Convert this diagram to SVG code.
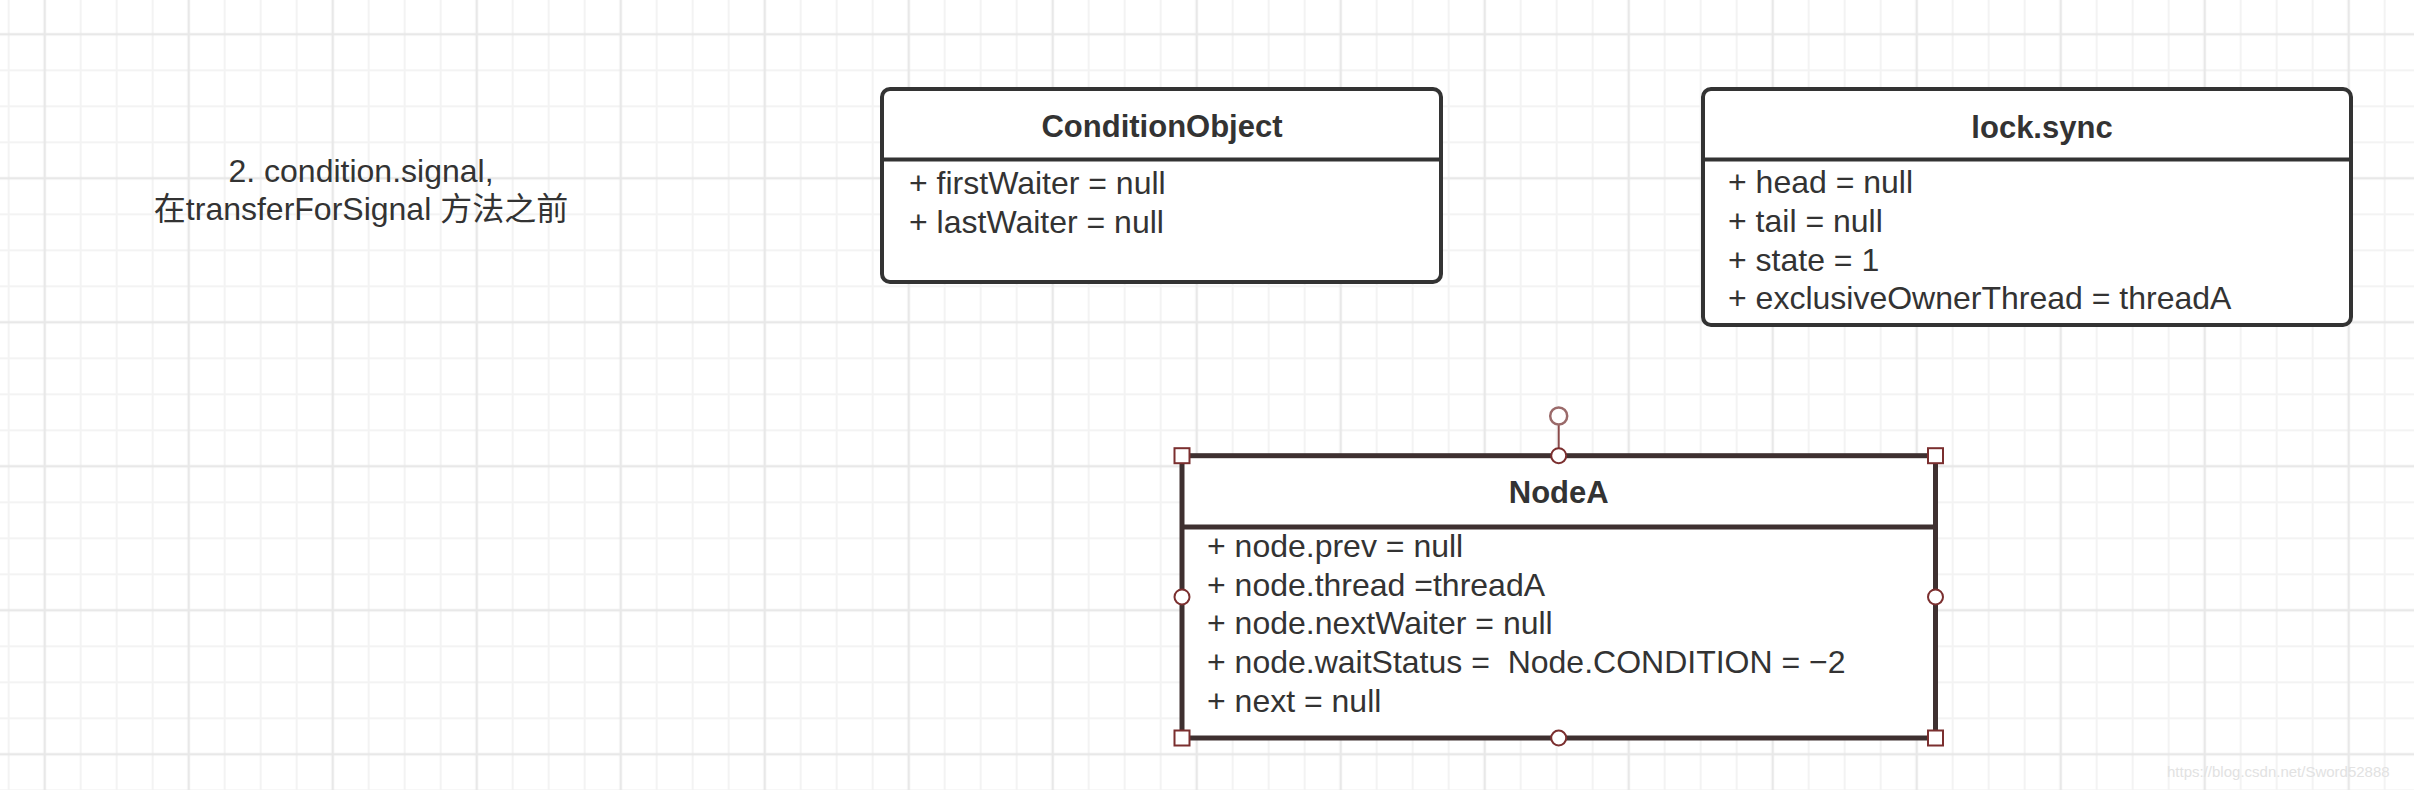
<svg xmlns="http://www.w3.org/2000/svg" width="2414" height="790" viewBox="0 0 2414 790">
  <defs>
    <pattern id="grid" patternUnits="userSpaceOnUse" x="26.7" y="16.3" width="144" height="144">
      <rect width="144" height="144" fill="#ffffff"/>
      <g fill="#f3f3f3">
        <rect x="53" y="0" width="2" height="144"/>
        <rect x="89" y="0" width="2" height="144"/>
        <rect x="125" y="0" width="2" height="144"/>
        <rect x="0" y="53" width="144" height="2"/>
        <rect x="0" y="89" width="144" height="2"/>
        <rect x="0" y="125" width="144" height="2"/>
      </g>
      <g fill="#e8e8e8">
        <rect x="16.8" y="0" width="2.4" height="144"/>
        <rect x="0" y="16.8" width="144" height="2.4"/>
      </g>
    </pattern>
    <style>
      .box { fill: #ffffff; stroke: #333333; stroke-width: 4; }
      .div { stroke: #333333; stroke-width: 4; }
      .title { font-family: "Liberation Sans", Arial, sans-serif; font-size: 31px; font-weight: bold; fill: #333333; text-anchor: middle; }
      .attr { font-family: "Liberation Sans", Arial, sans-serif; font-size: 32px; fill: #333333; white-space: pre; }
      .note { font-family: "Liberation Sans", "Noto Sans CJK SC", sans-serif; font-size: 32px; fill: #333333; text-anchor: middle; }
      .sel { fill: #ffffff; stroke: #7b2f2f; stroke-width: 2; }
      .nbox { fill: #ffffff; stroke: #3e3030; stroke-width: 5; }
    </style>
  </defs>

  <rect x="0" y="0" width="2414" height="790" fill="url(#grid)"/>

  <g id="note">
    <text class="note" x="361" y="181.5">2. condition.signal,</text>
    <text class="note" x="361" y="220">在transferForSignal 方法之前</text>
  </g>

  <g id="node-conditionobject">
    <rect class="box" x="882" y="89" width="559" height="193" rx="8"/>
    <line class="div" x1="882" y1="159.5" x2="1441" y2="159.5"/>
    <text class="title" x="1162" y="136.7">ConditionObject</text>
    <text class="attr" x="909" y="194">+ firstWaiter = null</text>
    <text class="attr" x="909" y="232.5">+ lastWaiter = null</text>
  </g>

  <g id="node-locksync">
    <rect class="box" x="1703" y="89" width="648" height="236" rx="8"/>
    <line class="div" x1="1703" y1="159.5" x2="2351" y2="159.5"/>
    <text class="title" x="2042" y="138">lock.sync</text>
    <text class="attr" x="1728" y="193.3">+ head = null</text>
    <text class="attr" x="1728" y="231.9">+ tail = null</text>
    <text class="attr" x="1728" y="270.5">+ state = 1</text>
    <text class="attr" x="1728" y="309.1">+ exclusiveOwnerThread = threadA</text>
  </g>

  <g id="node-nodea">
    <rect class="nbox" x="1182" y="455.7" width="753.5" height="282.3"/>
    <line stroke="#3e3030" stroke-width="5" x1="1182" y1="527" x2="1935.5" y2="527"/>
    <text class="title" x="1558.7" y="503">NodeA</text>
    <text class="attr" x="1207" y="556.7">+ node.prev = null</text>
    <text class="attr" x="1207" y="595.5">+ node.thread =threadA</text>
    <text class="attr" x="1207" y="634.3">+ node.nextWaiter = null</text>
    <text class="attr" x="1207" y="673">+ node.waitStatus =  Node.CONDITION = −2</text>
    <text class="attr" x="1207" y="711.7">+ next = null</text>
    <g id="nodea-selection">
      <line x1="1558.7" y1="425" x2="1558.7" y2="449" stroke="#8a4a4a" stroke-width="2"/>
      <circle cx="1558.7" cy="416" r="8.5" fill="#ffffff" stroke="#9a6a6a" stroke-width="2.5"/>
      <rect class="sel" x="1174.5" y="448.2" width="15" height="15"/>
      <rect class="sel" x="1928" y="448.2" width="15" height="15"/>
      <rect class="sel" x="1174.5" y="730.5" width="15" height="15"/>
      <rect class="sel" x="1928" y="730.5" width="15" height="15"/>
      <circle class="sel" cx="1558.7" cy="455.7" r="7.5"/>
      <circle class="sel" cx="1558.7" cy="738" r="7.5"/>
      <circle class="sel" cx="1182" cy="596.9" r="7.5"/>
      <circle class="sel" cx="1935.5" cy="596.9" r="7.5"/>
    </g>
  </g>

  <g id="connectors"/>

  <text x="2167" y="776.5" font-family="Liberation Sans, Arial, sans-serif" font-size="15" fill="#e2e2e2">https://blog.csdn.net/Sword52888</text>
</svg>
